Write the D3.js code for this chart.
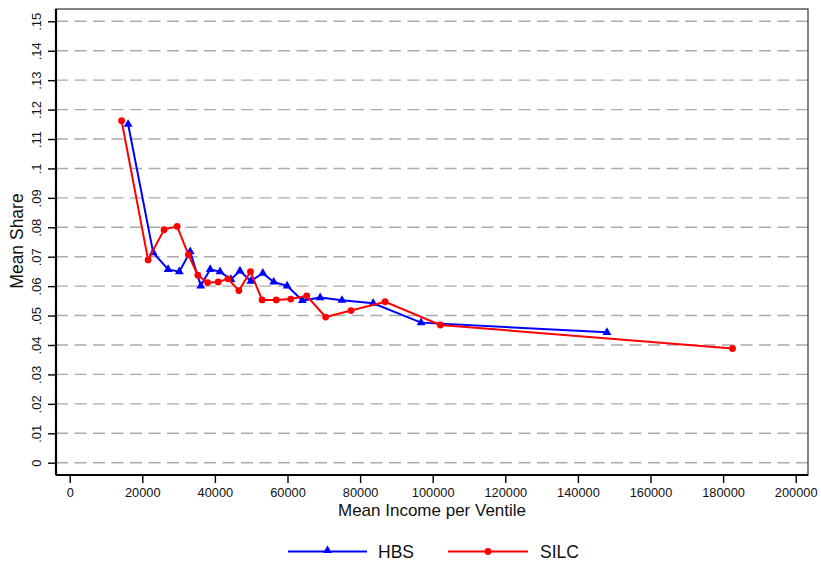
<!DOCTYPE html>
<html>
<head>
<meta charset="utf-8">
<script src="https://cdn.jsdelivr.net/npm/d3@7"></script>
<style>
  html, body { margin: 0; padding: 0; background: #fff; }
  svg { display: block; font-family: "Liberation Sans", Arial, sans-serif; }
</style>
</head>
<body>
<svg id="chart" width="821" height="565"></svg>
<script>
// Mean income per ventile (x) and mean share (y) for each survey
const hbsIncome = [16100, 23000, 27100, 30200, 33200, 36100, 38700, 41400, 44400, 46900,
                   49900, 53200, 56200, 59900, 64100, 69000, 75000, 83600, 96800, 148000];
const hbsShare  = [0.1150, 0.0714, 0.0657, 0.0649, 0.0717, 0.0601, 0.0657, 0.0649, 0.0623, 0.0652,
                   0.0617, 0.0644, 0.0614, 0.0601, 0.0551, 0.0561, 0.0552, 0.0542, 0.0476, 0.0443];

const silcIncome = [14300, 21600, 26000, 29600, 32700, 35300, 38000, 40900, 43600, 46600,
                    49800, 53000, 56900, 60900, 65300, 70500, 77500, 86900, 102100, 182600];
const silcShare  = [0.1162, 0.0689, 0.0792, 0.0803, 0.0707, 0.0637, 0.0612, 0.0614, 0.0625, 0.0585,
                    0.0649, 0.0553, 0.0553, 0.0556, 0.0567, 0.0495, 0.0517, 0.0547, 0.0468, 0.0388];

const xTicks = [0, 20000, 40000, 60000, 80000, 100000, 120000, 140000, 160000, 180000, 200000];
const yTicks = [0, 0.01, 0.02, 0.03, 0.04, 0.05, 0.06, 0.07, 0.08, 0.09, 0.10, 0.11, 0.12, 0.13, 0.14, 0.15];

const seriesNames  = ["HBS", "SILC"];
const seriesColors = ["#0000ff", "#ff0000"];

const svg = d3.select("#chart");

// plot region frame
const frame = { left: 56, right: 808, top: 9, bottom: 475 };

const x = d3.scaleLinear().domain([0, 200000]).range([69.7, 795.7]);
const y = d3.scaleLinear().domain([0, 0.15]).range([462.7, 21.3]);

// gridlines
svg.append("g").selectAll("line").data(yTicks).join("line")
  .attr("x1", frame.left).attr("x2", frame.right)
  .attr("y1", d => y(d)).attr("y2", d => y(d))
  .attr("stroke", "#ababab").attr("stroke-width", 1.4)
  .attr("stroke-dasharray", "12,6.5");

// outer frame (top/right)
svg.append("rect")
  .attr("x", frame.left).attr("y", frame.top)
  .attr("width", frame.right - frame.left).attr("height", frame.bottom - frame.top)
  .attr("fill", "none").attr("stroke", "#333").attr("stroke-width", 1.2);

// y axis
const fmtY = d => d === 0 ? "0" : d3.format(".2~f")(d).replace(/^0/, "");
const yAxis = d3.axisLeft(y).tickValues(yTicks).tickSize(8).tickPadding(0).tickFormat(fmtY);
const gy = svg.append("g").attr("transform", `translate(${frame.left},0)`).call(yAxis);
gy.select(".domain").attr("d", `M0,${frame.top}V${frame.bottom}`).attr("stroke", "#000").attr("stroke-width", 2.2);
gy.selectAll(".tick line").attr("stroke", "#000").attr("stroke-width", 1.4);
gy.selectAll(".tick text")
  .attr("x", 0).attr("y", 0).attr("dy", 0)
  .attr("transform", "translate(-15,0) rotate(-90)")
  .attr("text-anchor", "middle")
  .attr("font-size", 13).attr("fill", "#111")
  .attr("font-family", "Liberation Sans, Arial, sans-serif");

// x axis
const xAxis = d3.axisBottom(x).tickValues(xTicks).tickSize(8).tickPadding(5).tickFormat(d3.format("d"));
const gx = svg.append("g").attr("transform", `translate(0,${frame.bottom})`).call(xAxis);
gx.select(".domain").attr("d", `M${frame.left},0H${frame.right}`).attr("stroke", "#000").attr("stroke-width", 2.2);
gx.selectAll(".tick line").attr("stroke", "#000").attr("stroke-width", 1.4);
gx.selectAll(".tick text")
  .attr("font-size", 12.8).attr("fill", "#111")
  .attr("font-family", "Liberation Sans, Arial, sans-serif");

// axis titles
svg.append("text")
  .attr("x", 432).attr("y", 516)
  .attr("text-anchor", "middle").attr("font-size", 17).attr("fill", "#111")
  .text("Mean Income per Ventile");
svg.append("text")
  .attr("transform", "translate(23,241) rotate(-90)")
  .attr("text-anchor", "middle").attr("font-size", 17.5).attr("fill", "#111")
  .text("Mean Share");

// series
const series = [
  { name: seriesNames[0], color: seriesColors[0], pts: hbsIncome.map((v, i) => [v, hbsShare[i]]), marker: "tri" },
  { name: seriesNames[1], color: seriesColors[1], pts: silcIncome.map((v, i) => [v, silcShare[i]]), marker: "dot" }
];

const line = d3.line().x(d => x(d[0])).y(d => y(d[1]));
const triSym = d3.symbol().type(d3.symbolTriangle).size(34);

series.forEach(s => {
  const g = svg.append("g");
  g.append("path").datum(s.pts)
    .attr("d", line).attr("fill", "none")
    .attr("stroke", s.color).attr("stroke-width", 2);
  if (s.marker === "tri") {
    g.selectAll("path.m").data(s.pts).join("path").attr("class", "m")
      .attr("d", triSym)
      .attr("transform", d => `translate(${x(d[0])},${y(d[1])})`)
      .attr("fill", s.color);
  } else {
    g.selectAll("circle").data(s.pts).join("circle")
      .attr("cx", d => x(d[0])).attr("cy", d => y(d[1])).attr("r", 3.4)
      .attr("fill", s.color);
  }
});

// legend
const legendY = 551.5;
const legendItems = [
  { s: series[0], x0: 288, x1: 367, tx: 378 },
  { s: series[1], x0: 448, x1: 528, tx: 540 }
];
legendItems.forEach(it => {
  const g = svg.append("g");
  g.append("line").attr("x1", it.x0).attr("x2", it.x1).attr("y1", legendY).attr("y2", legendY)
    .attr("stroke", it.s.color).attr("stroke-width", 2);
  const mx = (it.x0 + it.x1) / 2;
  if (it.s.marker === "tri") {
    g.append("path").attr("d", triSym).attr("transform", `translate(${mx},${legendY - 1})`).attr("fill", it.s.color);
  } else {
    g.append("circle").attr("cx", mx).attr("cy", legendY).attr("r", 3.4).attr("fill", it.s.color);
  }
  g.append("text").attr("x", it.tx).attr("y", legendY + 6)
    .attr("font-size", 17.5).attr("fill", "#111").text(it.s.name);
});
</script>
</body>
</html>
